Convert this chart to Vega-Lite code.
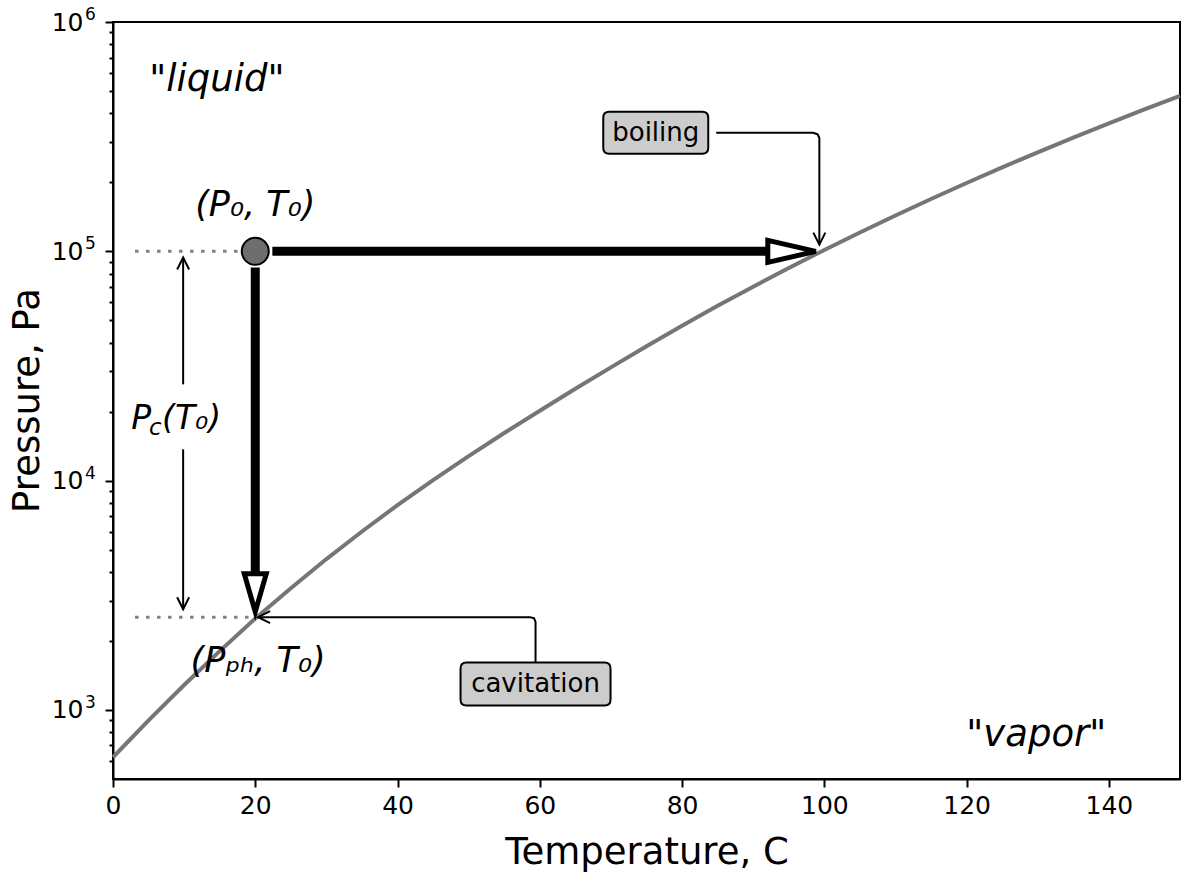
{
  "$schema": "https://vega.github.io/schema/vega-lite/v6.json",
  "autosize": {"type": "none"},
  "padding": {"left": 113, "top": 22, "right": 1, "bottom": 93},
  "width": 1067,
  "height": 757,
  "background": "white",
  "config": {
    "view": {"stroke": "black", "strokeWidth": 2},
    "font": "DejaVu Sans",
    "axis": {"grid": false, "domainColor": "black", "domainWidth": 2, "tickColor": "black", "tickWidth": 2, "labelColor": "black", "titleColor": "black", "labelFont": "DejaVu Sans", "titleFont": "DejaVu Sans", "titleFontWeight": "normal", "labelOverlap": false, "labelFlush": false}
  },
  "datasets": {
    "curve": [
      {"T": 0, "P": 622}, {"T": 5, "P": 901}, {"T": 10, "P": 1285}, {"T": 15, "P": 1806}, {"T": 20, "P": 2506},
      {"T": 25, "P": 3396}, {"T": 30, "P": 4550}, {"T": 35, "P": 6003}, {"T": 40, "P": 7820}, {"T": 45, "P": 10050},
      {"T": 50, "P": 12790}, {"T": 55, "P": 16130}, {"T": 60, "P": 20180}, {"T": 65, "P": 25150}, {"T": 70, "P": 31190},
      {"T": 75, "P": 38580}, {"T": 80, "P": 47390}, {"T": 85, "P": 57830}, {"T": 90, "P": 70140}, {"T": 95, "P": 84550},
      {"T": 100, "P": 101420}, {"T": 105, "P": 120900}, {"T": 110, "P": 143380}, {"T": 115, "P": 169200}, {"T": 120, "P": 198670},
      {"T": 125, "P": 232200}, {"T": 130, "P": 270280}, {"T": 135, "P": 313200}, {"T": 140, "P": 361530}, {"T": 145, "P": 415700},
      {"T": 150, "P": 476160}
    ],
    "dotted": [
      {"g": "a", "i": 0, "T": 3.1, "P": 100000}, {"g": "a", "i": 1, "T": 20, "P": 100000},
      {"g": "b", "i": 0, "T": 3.1, "P": 2540}, {"g": "b", "i": 1, "T": 20, "P": 2540}
    ],
    "thick": [
      {"g": "h", "i": 0, "T": 22.4, "P": 100000}, {"g": "h", "i": 1, "T": 92.6, "P": 100000},
      {"g": "v", "i": 0, "T": 20, "P": 85000}, {"g": "v", "i": 1, "T": 20, "P": 3760}
    ],
    "headRight": [{"T": 98.8, "P": 100000}],
    "headDown": [{"T": 20, "P": 2680}],
    "p0": [{"T": 20, "P": 100000}],
    "conn": [
      {"g": "pcTop", "i": 0, "T": 9.86, "P": 94000}, {"g": "pcTop", "i": 1, "T": 9.86, "P": 26300},
      {"g": "pcBot", "i": 0, "T": 9.86, "P": 13700}, {"g": "pcBot", "i": 1, "T": 9.86, "P": 2750},
      {"g": "boil", "i": 0, "T": 84.8, "P": 329000}, {"g": "boil", "i": 1, "T": 98.4, "P": 329000}, {"g": "boil", "i": 2, "T": 99.05, "P": 324000}, {"g": "boil", "i": 3, "T": 99.3, "P": 312000}, {"g": "boil", "i": 4, "T": 99.3, "P": 107000},
      {"g": "cav", "i": 0, "T": 59.4, "P": 1570}, {"g": "cav", "i": 1, "T": 59.4, "P": 2420}, {"g": "cav", "i": 2, "T": 59.2, "P": 2510}, {"g": "cav", "i": 3, "T": 58.6, "P": 2540}, {"g": "cav", "i": 4, "T": 20.4, "P": 2540}
    ],
    "chev": [
      {"T": 9.86, "P": 94000, "dir": "up"},
      {"T": 9.86, "P": 2750, "dir": "down"},
      {"T": 99.3, "P": 107000, "dir": "down"},
      {"T": 20.4, "P": 2540, "dir": "left"}
    ],
    "boxSmall": [{"T": 76.3, "P": 329000, "label": "boiling"}],
    "boxLarge": [{"T": 59.4, "P": 1298, "label": "cavitation"}],
    "region": [
      {"T": 14.6, "P": 559000, "label": "\"liquid\""},
      {"T": 129.8, "P": 778, "label": "\"vapor\""}
    ],
    "pointLabels": [
      {"T": 20, "P": 159700, "label": "(P₀, T₀)"},
      {"T": 20.4, "P": 1637, "label": "(Pₚₕ, T₀)"}
    ],
    "pc": [{"T": 6.62, "P": 16760, "a": "P", "b": "c", "c": "(T₀)"}],
    "exps": [
      {"T": 0, "P": 1000, "e": "3"}, {"T": 0, "P": 10000, "e": "4"},
      {"T": 0, "P": 100000, "e": "5"}, {"T": 0, "P": 1000000, "e": "6"}
    ]
  },
  "encoding": {
    "x": {
      "field": "T", "type": "quantitative",
      "scale": {"domain": [0, 150], "nice": false, "zero": false},
      "axis": {"title": "Temperature, C", "values": [0, 20, 40, 60, 80, 100, 120, 140], "tickSize": 8, "labelFontSize": 25, "labelPadding": 6, "titleFontSize": 37, "titlePadding": 16}
    },
    "y": {
      "field": "P", "type": "quantitative",
      "scale": {"type": "log", "domain": [500, 1000000], "nice": false},
      "axis": {
        "title": "Pressure, Pa",
        "values": [600, 700, 800, 900, 1000, 2000, 3000, 4000, 5000, 6000, 7000, 8000, 9000, 10000, 20000, 30000, 40000, 50000, 60000, 70000, 80000, 90000, 100000, 200000, 300000, 400000, 500000, 600000, 700000, 800000, 900000, 1000000],
        "tickSize": {"condition": {"test": "datum.value == 1000 || datum.value == 10000 || datum.value == 100000 || datum.value == 1000000", "value": 8}, "value": 4},
        "labelExpr": "datum.value == 1000 || datum.value == 10000 || datum.value == 100000 || datum.value == 1000000 ? '10' : ''",
        "labelFontSize": 25, "labelPadding": 22, "titleFontSize": 37,
        "titleX": -86, "titleY": 378, "titleAngle": -90, "titleAlign": "center", "titleBaseline": "middle"
      }
    }
  },
  "layer": [
    {"data": {"name": "curve"}, "mark": {"type": "line", "color": "#767676", "strokeWidth": 4}, "encoding": {}},
    {"data": {"name": "dotted"}, "mark": {"type": "line", "color": "#808080", "strokeWidth": 3, "strokeDash": [3.5, 7.5]}, "encoding": {"detail": {"field": "g"}, "order": {"field": "i"}}},
    {"data": {"name": "thick"}, "mark": {"type": "line", "color": "black", "strokeWidth": 9}, "encoding": {"detail": {"field": "g"}, "order": {"field": "i"}}},
    {"data": {"name": "headRight"}, "mark": {"type": "point", "shape": "M0,0L-2,-0.46L-2,0.46Z", "size": 2304, "filled": true, "fill": "white", "stroke": "black", "strokeWidth": 5, "opacity": 1, "strokeJoin": "miter"}},
    {"data": {"name": "headDown"}, "mark": {"type": "point", "shape": "M0,0L-0.58,-2L0.58,-2Z", "size": 1444, "filled": true, "fill": "white", "stroke": "black", "strokeWidth": 5, "opacity": 1, "strokeJoin": "miter"}},
    {"data": {"name": "p0"}, "mark": {"type": "point", "shape": "circle", "size": 729, "filled": true, "fill": "#6e6e6e", "stroke": "black", "strokeWidth": 2, "opacity": 1}},
    {"data": {"name": "conn"}, "mark": {"type": "line", "color": "black", "strokeWidth": 2, "strokeJoin": "round"}, "encoding": {"detail": {"field": "g"}, "order": {"field": "i"}}},
    {"data": {"name": "chev"}, "mark": {"type": "point", "filled": false, "stroke": "black", "strokeWidth": 2, "size": 400, "opacity": 1},
      "encoding": {"shape": {"field": "dir", "type": "nominal", "legend": null, "scale": {"domain": ["up", "down", "left"], "range": ["M-0.6,1.2L0,0L0.6,1.2", "M-0.6,-1.2L0,0L0.6,-1.2", "M1.2,-0.6L0,0L1.2,0.6"]}}}},
    {"data": {"name": "boxSmall"}, "mark": {"type": "point", "shape": "M-4.65,-2.1H4.65Q5.25,-2.1 5.25,-1.5V1.5Q5.25,2.1 4.65,2.1H-4.65Q-5.25,2.1 -5.25,1.5V-1.5Q-5.25,-2.1 -4.65,-2.1Z", "size": 400, "filled": true, "fill": "#cccccc", "stroke": "black", "strokeWidth": 2, "opacity": 1}},
    {"data": {"name": "boxLarge"}, "mark": {"type": "point", "shape": "M-6.9,-2.15H6.9Q7.5,-2.15 7.5,-1.55V1.55Q7.5,2.15 6.9,2.15H-6.9Q-7.5,2.15 -7.5,1.55V-1.55Q-7.5,-2.15 -6.9,-2.15Z", "size": 400, "filled": true, "fill": "#cccccc", "stroke": "black", "strokeWidth": 2, "opacity": 1}},
    {"data": {"name": "boxSmall"}, "mark": {"type": "text", "fontSize": 26, "font": "DejaVu Sans", "color": "black", "baseline": "middle", "align": "center"}, "encoding": {"text": {"field": "label"}}},
    {"data": {"name": "boxLarge"}, "mark": {"type": "text", "fontSize": 26, "font": "DejaVu Sans", "color": "black", "baseline": "middle", "align": "center"}, "encoding": {"text": {"field": "label"}}},
    {"data": {"name": "region"}, "mark": {"type": "text", "fontSize": 37, "font": "DejaVu Sans", "fontStyle": "italic", "color": "black", "baseline": "middle", "align": "center"}, "encoding": {"text": {"field": "label"}}},
    {"data": {"name": "pointLabels"}, "mark": {"type": "text", "fontSize": 35, "font": "DejaVu Sans", "fontStyle": "italic", "color": "black", "baseline": "middle", "align": "center"}, "encoding": {"text": {"field": "label"}}},
    {"data": {"name": "pc"}, "mark": {"type": "text", "fontSize": 33, "font": "DejaVu Sans", "fontStyle": "italic", "color": "black", "baseline": "alphabetic", "align": "right", "dx": -9}, "encoding": {"text": {"field": "a"}}},
    {"data": {"name": "pc"}, "mark": {"type": "text", "fontSize": 23, "font": "DejaVu Sans", "fontStyle": "italic", "color": "black", "baseline": "alphabetic", "align": "left", "dx": -11, "dy": 6}, "encoding": {"text": {"field": "b"}}},
    {"data": {"name": "pc"}, "mark": {"type": "text", "fontSize": 33, "font": "DejaVu Sans", "fontStyle": "italic", "color": "black", "baseline": "alphabetic", "align": "left", "dx": 2}, "encoding": {"text": {"field": "c"}}},
    {"data": {"name": "exps"}, "mark": {"type": "text", "fontSize": 17, "font": "DejaVu Sans", "color": "black", "baseline": "alphabetic", "align": "left", "dx": -28, "dy": -2}, "encoding": {"text": {"field": "e"}}}
  ]
}
